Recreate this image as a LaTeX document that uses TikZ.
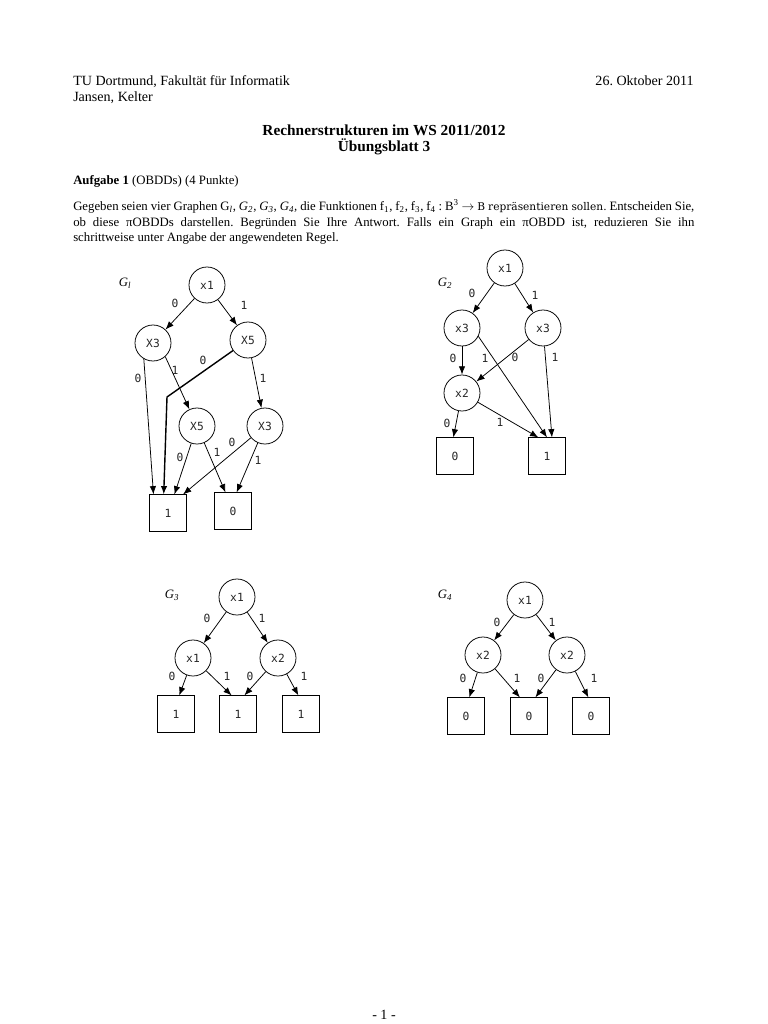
\documentclass[tikz,border=0pt]{standalone}
\usepackage{fontspec}
\setmainfont{Liberation Serif}
\newfontfamily\bddfont{DejaVu Sans Mono}
\newfontfamily\altfont{DejaVu Serif}
\usetikzlibrary{arrows.meta}
\begin{document}
\frenchspacing
\begin{tikzpicture}[x=0.0275cm, y=-0.0275cm,
  bddvar/.style={draw, circle, line width=0.6pt, minimum size=0.99cm, inner sep=0pt, text=black!85, font=\bddfont\fontsize{8.8pt}{10pt}\selectfont},
  bddleaf/.style={draw, line width=0.6pt, minimum size=1cm, inner sep=0pt, text=black!85, font=\bddfont\fontsize{8.8pt}{10pt}\selectfont},
  bddedge/.style={-{Latex[length=6.5pt,width=5pt]}, line width=0.6pt},
  elabel/.style={inner sep=0pt, text=black!85, font=\bddfont\fontsize{8.8pt}{10pt}\selectfont},
  glabel/.style={inner sep=0pt, font=\fontsize{10pt}{12pt}\selectfont\itshape},
  plain/.style={inner sep=0pt}]
\useasboundingbox (0,0) rectangle (768,1024);
\fill[white] (0,0) rectangle (768,1024);

% header
\node[plain, anchor=base west, font=\fontsize{11pt}{13pt}\selectfont] (inst) at (73,85) {TU Dortmund, Fakultät für Informatik};
\node[plain, anchor=base west, font=\fontsize{11pt}{13pt}\selectfont] (auth) at (73,101.5) {Jansen, Kelter};
\node[plain, anchor=base east, font=\fontsize{11pt}{13pt}\selectfont] (date) at (694,85) {26. Oktober 2011};
\node[plain, anchor=base, font=\fontsize{12pt}{14pt}\selectfont\bfseries] (title) at (384,135) {Rechnerstrukturen im WS 2011/2012};
\node[plain, anchor=base, font=\fontsize{12pt}{14pt}\selectfont\bfseries] (sheet) at (384,151.5) {Übungsblatt 3};
\node[plain, anchor=base west, font=\fontsize{10pt}{12pt}\selectfont] (task) at (73,184) {\textbf{Aufgabe 1} (OBDDs) (4 Punkte)};
\node[plain, anchor=base west, text width=17.08cm, align=justify, font=\fontsize{10pt}{12.3pt}\selectfont] (text) at (73,210.5)
  {Gegeben seien vier Graphen G\textsubscript{\textit{l}}, \textit{G\textsubscript{2}}, \textit{G\textsubscript{3}}, \textit{G\textsubscript{4},} die Funktionen f\textsubscript{1}, f\textsubscript{2}, f\textsubscript{3}, f\textsubscript{4} : B\textsuperscript{3} $\rightarrow$ {\altfont\fontsize{8.3pt}{12pt}\selectfont B repräsentieren sollen.} Entscheiden Sie,\linebreak
  ob diese πOBDDs darstellen. Begründen Sie Ihre Antwort. Falls ein Graph ein πOBDD ist, reduzieren Sie ihn\linebreak
  schrittweise unter Angabe der angewendeten Regel.};
\node[plain, anchor=base, font=\fontsize{11pt}{13pt}\selectfont] (page) at (384,1019) {- 1 -};

% G1
\node[glabel] (g1name) at (125,283) {G\textsubscript{l}};
\node[bddvar] (g1x1) at (207,285) {x1};
\node[bddvar] (g1x3) at (153,343) {X3};
\node[bddvar] (g1x5) at (248,340) {X5};
\node[bddvar] (g1x5b) at (197,426) {X5};
\node[bddvar] (g1x3b) at (265,426) {X3};
\node[bddleaf] (g1one) at (168,513) {1};
\node[bddleaf] (g1zero) at (233,511) {0};
\coordinate (g1bend) at (167,397);
\draw[bddedge] (g1x1) -- (g1x3);
\draw[bddedge] (g1x1) -- (g1x5);
\draw[bddedge] (g1x3.240) -- (g1one.128);
\draw[bddedge] (g1x3.312) -- (g1x5b);
\draw[bddedge, line width=1.1pt] (g1x5) -- (g1bend) -- (g1one.103);
\draw[bddedge] (g1x5) -- (g1x3b);
\draw[bddedge] (g1x5b) -- (g1one.71);
\draw[bddedge] (g1x5b) -- (g1zero.112);
\draw[bddedge] (g1x3b) -- (g1one.51);
\draw[bddedge] (g1x3b) -- (g1zero.79);
\node[elabel] (g1a) at (175,303) {0};
\node[elabel] (g1b) at (244,305) {1};
\node[elabel] (g1c) at (138,378) {0};
\node[elabel] (g1d) at (175,370) {1};
\node[elabel] (g1e) at (203,360) {0};
\node[elabel] (g1f) at (263,378) {1};
\node[elabel] (g1g) at (180,457) {0};
\node[elabel] (g1h) at (217,452) {1};
\node[elabel] (g1i) at (232,442) {0};
\node[elabel] (g1j) at (258,460) {1};

% G2
\node[glabel] (g2name) at (445,283) {G\textsubscript{2}};
\node[bddvar] (g2x1) at (505,268) {x1};
\node[bddvar] (g2x3l) at (462,328) {x3};
\node[bddvar] (g2x3r) at (543,328) {x3};
\node[bddvar] (g2x2) at (462,393) {x2};
\node[bddleaf] (g2zero) at (455,456) {0};
\node[bddleaf] (g2one) at (547,456) {1};
\draw[bddedge] (g2x1) -- (g2x3l);
\draw[bddedge] (g2x1) -- (g2x3r);
\draw[bddedge] (g2x3l) -- (g2x2);
\draw[bddedge] (g2x3l.333) -- (g2one.90);
\draw[bddedge] (g2x3r) -- (g2x2);
\draw[bddedge] (g2x3r) -- (g2one.75);
\draw[bddedge] (g2x2) -- (g2zero.95);
\draw[bddedge] (g2x2) -- (g2one.115);
\node[elabel] (g2a) at (472,293) {0};
\node[elabel] (g2b) at (535,295) {1};
\node[elabel] (g2c) at (453,358) {0};
\node[elabel] (g2d) at (485,358) {1};
\node[elabel] (g2e) at (515,357) {0};
\node[elabel] (g2f) at (555,357) {1};
\node[elabel] (g2g) at (447,423) {0};
\node[elabel] (g2h) at (500,422) {1};

% G3
\node[glabel] (g3name) at (172,595) {G\textsubscript{3}};
\node[bddvar] (g3x1) at (237,597) {x1};
\node[bddvar] (g3x1b) at (193,658) {x1};
\node[bddvar] (g3x2) at (278,658) {x2};
\node[bddleaf] (g3la) at (176,714) {1};
\node[bddleaf] (g3lb) at (238,714) {1};
\node[bddleaf] (g3lc) at (301,714) {1};
\draw[bddedge] (g3x1) -- (g3x1b);
\draw[bddedge] (g3x1) -- (g3x2);
\draw[bddedge] (g3x1b) -- (g3la.80);
\draw[bddedge] (g3x1b) -- (g3lb.109);
\draw[bddedge] (g3x2) -- (g3lb.71);
\draw[bddedge] (g3x2) -- (g3lc.98);
\node[elabel] (g3a) at (207,618) {0};
\node[elabel] (g3b) at (262,618) {1};
\node[elabel] (g3c) at (172,676) {0};
\node[elabel] (g3d) at (227,676) {1};
\node[elabel] (g3e) at (250,676) {0};
\node[elabel] (g3f) at (304,676) {1};

% G4
\node[glabel] (g4name) at (445,595) {G\textsubscript{4}};
\node[bddvar] (g4x1) at (525,600) {x1};
\node[bddvar] (g4x2l) at (483,655) {x2};
\node[bddvar] (g4x2r) at (567,655) {x2};
\node[bddleaf] (g4la) at (466,716) {0};
\node[bddleaf] (g4lb) at (529,716) {0};
\node[bddleaf] (g4lc) at (591,716) {0};
\draw[bddedge] (g4x1) -- (g4x2l);
\draw[bddedge] (g4x1) -- (g4x2r);
\draw[bddedge] (g4x2l) -- (g4la.80);
\draw[bddedge] (g4x2l) -- (g4lb.116);
\draw[bddedge] (g4x2r) -- (g4lb.71);
\draw[bddedge] (g4x2r) -- (g4lc.98);
\node[elabel] (g4a) at (497,622) {0};
\node[elabel] (g4b) at (552,622) {1};
\node[elabel] (g4c) at (463,678) {0};
\node[elabel] (g4d) at (517,678) {1};
\node[elabel] (g4e) at (541,678) {0};
\node[elabel] (g4f) at (594,678) {1};
\end{tikzpicture}
\end{document}
